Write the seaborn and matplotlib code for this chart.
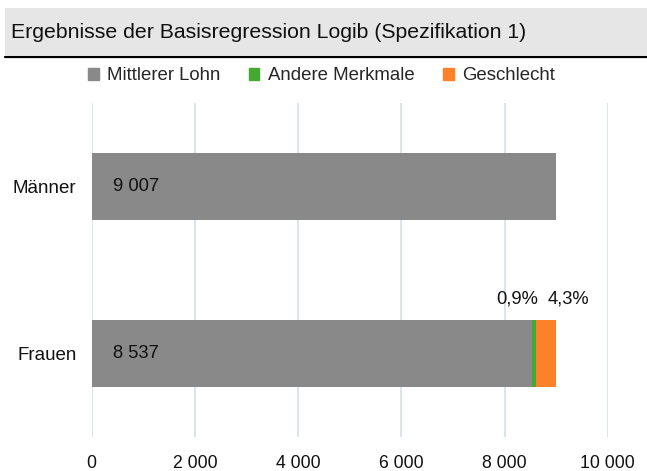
import numpy as np
import pandas as pd
import matplotlib
matplotlib.use("Agg")
import matplotlib.pyplot as plt
import matplotlib.patches as mpatches
from matplotlib.lines import Line2D
from matplotlib.ticker import FuncFormatter
import seaborn as sns

# Daten
gruppen = ["Männer", "Frauen"]
mittlerer_lohn = [9007, 8537]
andere_merkmale = [0, 81]
geschlecht = [0, 387]
prozent_labels = ["0,9%", "4,3%"]
x_ticks = [0, 2000, 4000, 6000, 8000, 10000]

farbe_lohn = "#898989"
farbe_andere = "#45a82f"
farbe_geschlecht = "#fd8129"

sns.set_theme(style="white")
plt.rcParams["font.family"] = ["Liberation Sans", "DejaVu Sans"]

df = pd.DataFrame({
    "gruppe": gruppen,
    "lohn": mittlerer_lohn,
    "andere": andere_merkmale,
    "geschlecht": geschlecht,
})
df["cum_andere"] = df["lohn"] + df["andere"]
df["cum_geschlecht"] = df["cum_andere"] + df["geschlecht"]

fig = plt.figure(figsize=(6.47, 4.71), dpi=100)
ax = fig.add_axes([0.1417, 0.0722, 0.7976, 0.7091])

# gestapelte Balken: Summen zuerst, dann überdecken
for spalte, farbe in [("cum_geschlecht", farbe_geschlecht),
                      ("cum_andere", farbe_andere),
                      ("lohn", farbe_lohn)]:
    sns.barplot(data=df, x=spalte, y="gruppe", orient="h", color=farbe,
                width=0.4, saturation=1, linewidth=0, ax=ax, zorder=3)

ax.set_xlim(0, 10000)
ax.set_ylim(1.5, -0.5)
ax.set_xticks(x_ticks)
ax.xaxis.set_major_formatter(FuncFormatter(lambda v, p: f"{int(v):,}".replace(",", " ")))
ax.grid(axis="x", color="#cfdde6", linewidth=1.1, zorder=0)
ax.grid(axis="y", visible=False)
for s in ax.spines.values():
    s.set_visible(False)
ax.tick_params(axis="x", length=0, pad=13, labelsize=12.7, labelcolor="#111111")
ax.tick_params(axis="y", length=0, pad=11, labelsize=13.5, labelcolor="#111111")
ax.set_xlabel("")
ax.set_ylabel("")

# Werte in den Balken
for i, v in enumerate(mittlerer_lohn):
    ax.text(420, i, f"{v:,}".replace(",", " "), va="center", ha="left",
            fontsize=13.2, color="#111111", zorder=4)

# Prozentangaben über den Frauen-Balken
i = 1
ax.annotate(prozent_labels[0], xy=(df["cum_andere"][i], i - 0.2), xytext=(1, 9),
            textcoords="offset points", ha="right", va="bottom", fontsize=13.2, color="#111111")
ax.annotate(prozent_labels[1], xy=(df["cum_andere"][i], i - 0.2), xytext=(8, 9),
            textcoords="offset points", ha="left", va="bottom", fontsize=13.2, color="#111111")

# Titelbox
fig.patches.append(mpatches.Rectangle((5 / 647, 1 - 55 / 471), 1, 47 / 471,
                                      transform=fig.transFigure, facecolor="#e6e6e6",
                                      edgecolor="none", zorder=0))
fig.lines.append(Line2D([5 / 647, 1], [1 - 56.5 / 471] * 2, transform=fig.transFigure,
                        color="black", linewidth=1.6))
fig.text(11 / 647, 1 - 32 / 471, "Ergebnisse der Basisregression Logib (Spezifikation 1)",
         ha="left", va="center", fontsize=15.3, color="#111111")

# Legende
handles = [mpatches.Patch(color=farbe_lohn, label="Mittlerer Lohn"),
           mpatches.Patch(color=farbe_andere, label="Andere Merkmale"),
           mpatches.Patch(color=farbe_geschlecht, label="Geschlecht")]
fig.legend(handles=handles, loc="center", bbox_to_anchor=(0.497, 1 - 76 / 471), ncol=3,
           frameon=False, fontsize=13.4, handlelength=0.55, handleheight=0.55,
           handletextpad=0.45, columnspacing=1.55)

fig.savefig("out.png", dpi=100)
